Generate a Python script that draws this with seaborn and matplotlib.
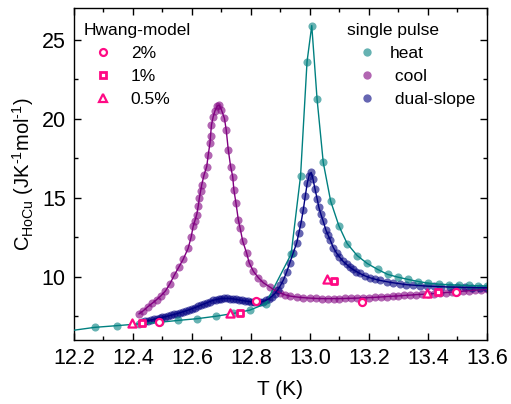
import matplotlib
matplotlib.use('Agg')
import numpy as np
import pandas as pd
import matplotlib.pyplot as plt
import seaborn as sns
from matplotlib.lines import Line2D
from matplotlib.ticker import MultipleLocator

# single pulse - heating (sparse points)
heat_T = [12.270, 12.347, 12.420, 12.490, 12.553, 12.618, 12.680, 12.740, 12.796, 12.850,
          12.936, 12.968, 12.990, 13.006, 13.024, 13.045, 13.070, 13.098, 13.126, 13.160,
          13.194, 13.230, 13.263, 13.297, 13.333, 13.367, 13.400, 13.437, 13.470, 13.505,
          13.539, 13.568, 13.600]
heat_C = [6.80, 6.91, 7.02, 7.12, 7.24, 7.35, 7.50, 7.68, 7.89, 8.30,
          11.43, 16.37, 23.60, 25.89, 21.24, 17.23, 14.79, 13.22, 12.10, 11.34,
          10.84, 10.46, 10.15, 9.98, 9.83, 9.70, 9.60, 9.53, 9.50, 9.47,
          9.45, 9.43, 9.41]
# fit line for heating curve starts at the left edge
heat_fit_T = [12.200] + heat_T
heat_fit_C = [6.62] + heat_C

# single pulse - cooling
cool_T = [12.420, 12.435, 12.450, 12.465, 12.480, 12.495, 12.510, 12.525, 12.540, 12.555,
          12.570, 12.587, 12.597, 12.604, 12.610, 12.616, 12.621, 12.625, 12.629, 12.633,
          12.641, 12.650, 12.655, 12.661, 12.663, 12.666, 12.672, 12.678, 12.686, 12.692,
          12.700, 12.710, 12.716, 12.723, 12.731, 12.738, 12.742, 12.749, 12.757, 12.763,
          12.772, 12.785, 12.794, 12.808, 12.825, 12.842, 12.864, 12.880, 12.898, 12.915,
          12.932, 12.955, 12.976, 13.000, 13.020, 13.040, 13.060, 13.080, 13.100, 13.120,
          13.140, 13.160, 13.180, 13.200, 13.220, 13.240, 13.260, 13.280, 13.300, 13.320,
          13.340, 13.360, 13.380, 13.400, 13.420, 13.440, 13.460, 13.480, 13.500, 13.520,
          13.540, 13.560, 13.580, 13.600]
cool_C = [7.65, 7.85, 8.10, 8.32, 8.55, 8.80, 9.10, 9.55, 10.10, 10.60,
          11.10, 11.80, 12.50, 13.19, 13.55, 13.93, 14.45, 14.98, 15.40, 15.82,
          16.45, 16.97, 17.71, 18.45, 18.93, 19.60, 20.13, 20.50, 20.80, 20.86,
          20.55, 20.02, 19.29, 18.03, 16.97, 16.34, 15.50, 14.67, 13.61, 13.09,
          12.25, 11.51, 10.88, 10.35, 9.94, 9.62, 9.35, 9.15, 8.99, 8.86,
          8.78, 8.72, 8.68, 8.65, 8.63, 8.62, 8.62, 8.62, 8.62, 8.63,
          8.64, 8.65, 8.67, 8.68, 8.70, 8.72, 8.75, 8.77, 8.79, 8.82,
          8.84, 8.87, 8.89, 8.91, 8.94, 8.97, 9.00, 9.03, 9.06, 9.09,
          9.12, 9.15, 9.18, 9.21]

# dual-slope
dual_T = [12.43, 12.44, 12.45, 12.46, 12.47, 12.48, 12.49, 12.50, 12.51, 12.52,
          12.53, 12.54, 12.55, 12.56, 12.57, 12.58, 12.59, 12.60, 12.61, 12.62,
          12.63, 12.64, 12.65, 12.66, 12.67, 12.68, 12.69, 12.70, 12.71, 12.72,
          12.73, 12.74, 12.75, 12.76, 12.77, 12.78, 12.79, 12.80, 12.81, 12.82,
          12.83, 12.84, 12.85, 12.86, 12.87, 12.880, 12.890, 12.900, 12.910, 12.921,
          12.932, 12.943, 12.955, 12.962, 12.969, 12.977, 12.984, 12.991, 12.997, 13.004,
          13.010, 13.017, 13.024, 13.030, 13.037, 13.045, 13.054, 13.061, 13.068, 13.079,
          13.090, 13.100, 13.112, 13.124, 13.135, 13.146, 13.157, 13.169, 13.186, 13.203,
          13.220, 13.237, 13.260, 13.282, 13.305, 13.327, 13.350, 13.373, 13.395, 13.420,
          13.445, 13.473, 13.500, 13.525, 13.550, 13.575, 13.600]
dual_C = [7.14, 7.18, 7.22, 7.26, 7.30, 7.35, 7.39, 7.43, 7.48, 7.52,
          7.57, 7.62, 7.67, 7.73, 7.79, 7.85, 7.91, 7.98, 8.05, 8.12,
          8.20, 8.28, 8.35, 8.43, 8.50, 8.55, 8.59, 8.62, 8.63, 8.63,
          8.62, 8.60, 8.57, 8.53, 8.50, 8.47, 8.45, 8.42, 8.41, 8.40,
          8.40, 8.43, 8.50, 8.60, 8.75, 8.92, 9.15, 9.45, 9.80, 10.30,
          10.90, 11.50, 12.14, 12.75, 13.35, 14.20, 15.10, 15.95, 16.40, 16.60,
          16.20, 15.55, 14.95, 14.40, 13.95, 13.50, 12.95, 12.65, 12.35, 11.85,
          11.50, 11.25, 10.98, 10.78, 10.60, 10.46, 10.33, 10.21, 10.06, 9.94,
          9.85, 9.77, 9.69, 9.62, 9.56, 9.50, 9.47, 9.44, 9.41, 9.39,
          9.37, 9.35, 9.34, 9.33, 9.32, 9.31, 9.31]

# Hwang-model points
hw2_T = [12.488, 12.816, 13.175, 13.495]
hw2_C = [7.12, 8.46, 8.42, 9.05]
hw1_T = [12.429, 12.762, 13.082, 13.435]
hw1_C = [7.10, 7.73, 9.75, 9.03]
hw05_T = [12.396, 12.729, 13.056, 13.395]
hw05_C = [7.06, 7.73, 9.87, 8.99]

teal = '#008080'
purple = '#800080'
navy = '#000080'
pink = '#FF0A84'

sns.set_style('ticks')
plt.rcParams['font.family'] = ['Liberation Sans', 'DejaVu Sans']
plt.rcParams['mathtext.fontset'] = 'custom'
plt.rcParams['mathtext.rm'] = 'Liberation Sans'
plt.rcParams['mathtext.it'] = 'Liberation Sans:italic'
plt.rcParams['text.color'] = 'black'
plt.rcParams['axes.labelcolor'] = 'black'
plt.rcParams['xtick.color'] = 'black'
plt.rcParams['ytick.color'] = 'black'

fig = plt.figure(figsize=(5.11, 4.04), dpi=100)
ax = fig.add_axes([0.1448, 0.1584, 0.8082, 0.8218])

# fit lines
sns.lineplot(x=heat_fit_T, y=heat_fit_C, color=teal, lw=1.0, sort=False, ax=ax, zorder=3)
sns.lineplot(x=cool_T, y=cool_C, color=purple, lw=1.0, sort=False, ax=ax, zorder=3)
sns.lineplot(x=dual_T, y=dual_C, color=navy, lw=1.0, sort=False, ax=ax, zorder=3)

# measured points
sns.scatterplot(x=cool_T, y=cool_C, color=purple, alpha=0.6, s=34, linewidth=0, ax=ax, zorder=2)
sns.scatterplot(x=dual_T, y=dual_C, color=navy, alpha=0.6, s=34, linewidth=0, ax=ax, zorder=2)
sns.scatterplot(x=heat_T, y=heat_C, color=teal, alpha=0.6, s=34, linewidth=0, ax=ax, zorder=2)

# Hwang model
sns.scatterplot(x=hw2_T, y=hw2_C, marker='o', s=26, facecolor='white', edgecolor=pink, linewidth=1.6, ax=ax, zorder=5)
sns.scatterplot(x=hw1_T, y=hw1_C, marker='s', s=24, facecolor='white', edgecolor=pink, linewidth=2.0, ax=ax, zorder=5)
sns.scatterplot(x=hw05_T, y=hw05_C, marker='^', s=34, facecolor='white', edgecolor=pink, linewidth=1.6, ax=ax, zorder=5)

ax.set_xlim(12.2, 13.6)
ax.set_ylim(6.0, 27.0)
ax.xaxis.set_major_locator(MultipleLocator(0.2))
ax.xaxis.set_minor_locator(MultipleLocator(0.1))
ax.yaxis.set_major_locator(MultipleLocator(5))
ax.yaxis.set_minor_locator(MultipleLocator(2.5))
ax.set_xticks(np.arange(12.2, 13.61, 0.2))
ax.set_xticklabels(['12.2', '12.4', '12.6', '12.8', '13.0', '13.2', '13.4', '13.6'])
ax.tick_params(which='both', direction='in', top=True, right=True, width=1.0, labelsize=15.5, pad=6,
               colors='black')
ax.tick_params(which='major', length=5)
ax.tick_params(which='minor', length=3)
for sp in ax.spines.values():
    sp.set_linewidth(1.0)
    sp.set_color('black')

ax.set_xlabel('T (K)', fontsize=15, labelpad=8)
ylab = 'C$_{\\mathrm{HoCu}}$ (JK$^{\\mathrm{\u20101}}$mol$^{\\mathrm{\u20101}}$)'
ax.set_ylabel(ylab, fontsize=14.5, labelpad=4)

# legends
hw_handles = [
    Line2D([], [], ls='', marker='o', ms=5, mfc='white', mec=pink, mew=1.6),
    Line2D([], [], ls='', marker='s', ms=5, mfc='white', mec=pink, mew=2.0),
    Line2D([], [], ls='', marker='^', ms=6, mfc='white', mec=pink, mew=1.6),
]
leg1 = ax.legend(hw_handles, ['2%', '1%', '0.5%'], title='Hwang-model', loc='upper left',
                 bbox_to_anchor=(0.024, 0.955), frameon=False, fontsize=12.5, title_fontsize=12.5,
                 borderpad=0, borderaxespad=0, handlelength=2.2, handletextpad=0.5,
                 labelspacing=0.45, alignment='left')
ax.add_artist(leg1)

sp_handles = [
    Line2D([], [], ls='', marker='o', ms=6, mfc=teal, mec='none', alpha=0.6),
    Line2D([], [], ls='', marker='o', ms=6, mfc=purple, mec='none', alpha=0.6),
    Line2D([], [], ls='', marker='o', ms=6, mfc=navy, mec='none', alpha=0.6),
]
ax.legend(sp_handles, ['heat', ' cool', ' dual-slope'], title='single pulse', loc='upper left',
          bbox_to_anchor=(0.66, 0.955), frameon=False, fontsize=12.5, title_fontsize=12.5,
          borderpad=0, borderaxespad=0, handlelength=2.4, handletextpad=0.1,
          labelspacing=0.45, alignment='left')

fig.savefig('out.png', dpi=100)
